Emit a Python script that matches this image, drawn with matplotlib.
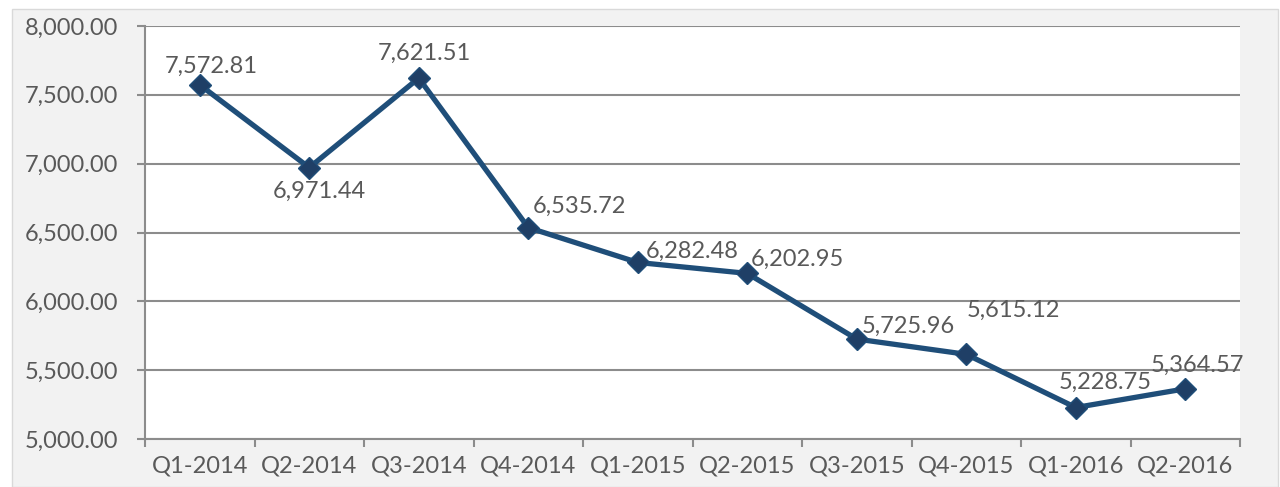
import matplotlib.pyplot as plt
from matplotlib.patches import Rectangle
from matplotlib.ticker import FuncFormatter, FixedLocator

quarters = ['Q1-2014', 'Q2-2014', 'Q3-2014', 'Q4-2014', 'Q1-2015',
            'Q2-2015', 'Q3-2015', 'Q4-2015', 'Q1-2016', 'Q2-2016']
values = [7572.81, 6971.44, 7621.51, 6535.72, 6282.48,
          6202.95, 5725.96, 5615.12, 5228.75, 5364.57]

# label offsets (points) relative to each marker
label_offsets = [(8, 13), (7, -17), (4, 18), (37, 15), (39, 8),
                 (36, 10), (37, 9), (34, 32), (21, 18), (9, 17)]

LINE = '#1F4E79'
TEXT = '#595959'
GRID = '#8C8C8C'

plt.rcParams['font.family'] = ['Lato', 'DejaVu Sans']

fig = plt.figure(figsize=(12.8, 4.87), dpi=100)
fig.patch.set_facecolor('white')
fig.patches.append(Rectangle((12 / 1280, 0), 1266 / 1280, 478 / 487,
                             transform=fig.transFigure, facecolor='#F2F2F2',
                             edgecolor='#D9D9D9', linewidth=1, zorder=-10))

ax = fig.add_axes([145 / 1280, 48 / 487, 1095 / 1280, 413 / 487])
ax.set_facecolor('white')

x = list(range(len(values)))
ax.plot(x, values, color=LINE, linewidth=3.8, marker='D', markersize=11.5,
        markerfacecolor='#1F3F66', markeredgecolor=LINE, zorder=3,
        clip_on=False)

for xi, v, (dx, dy) in zip(x, values, label_offsets):
    ax.annotate('{:,.2f}'.format(v), (xi, v), xytext=(dx, dy),
                textcoords='offset points', ha='center', va='center',
                fontsize=17, color=TEXT, zorder=4)

ax.set_xlim(-0.5, 9.5)
ax.set_ylim(5000, 8000)
ax.set_yticks([5000, 5500, 6000, 6500, 7000, 7500, 8000])
ax.yaxis.set_major_formatter(FuncFormatter(lambda v, p: '{:,.2f}'.format(v)))
ax.set_xticks(x)
ax.set_xticklabels(quarters)
ax.xaxis.set_minor_locator(FixedLocator([i - 0.5 for i in range(len(values) + 1)]))

ax.tick_params(axis='x', which='major', length=0, pad=12, labelsize=17, labelcolor=TEXT)
ax.tick_params(axis='x', which='minor', length=6, width=1.5, color=GRID, direction='out')
ax.tick_params(axis='y', length=6, width=1.5, color=GRID, pad=13, labelsize=17, labelcolor=TEXT)

ax.grid(axis='y', color=GRID, linewidth=1.5)
ax.set_axisbelow(True)
for side in ['top', 'right']:
    ax.spines[side].set_visible(False)
for side in ['left', 'bottom']:
    ax.spines[side].set_color(GRID)
    ax.spines[side].set_linewidth(1.5)

fig.savefig('out.png', dpi=100)
